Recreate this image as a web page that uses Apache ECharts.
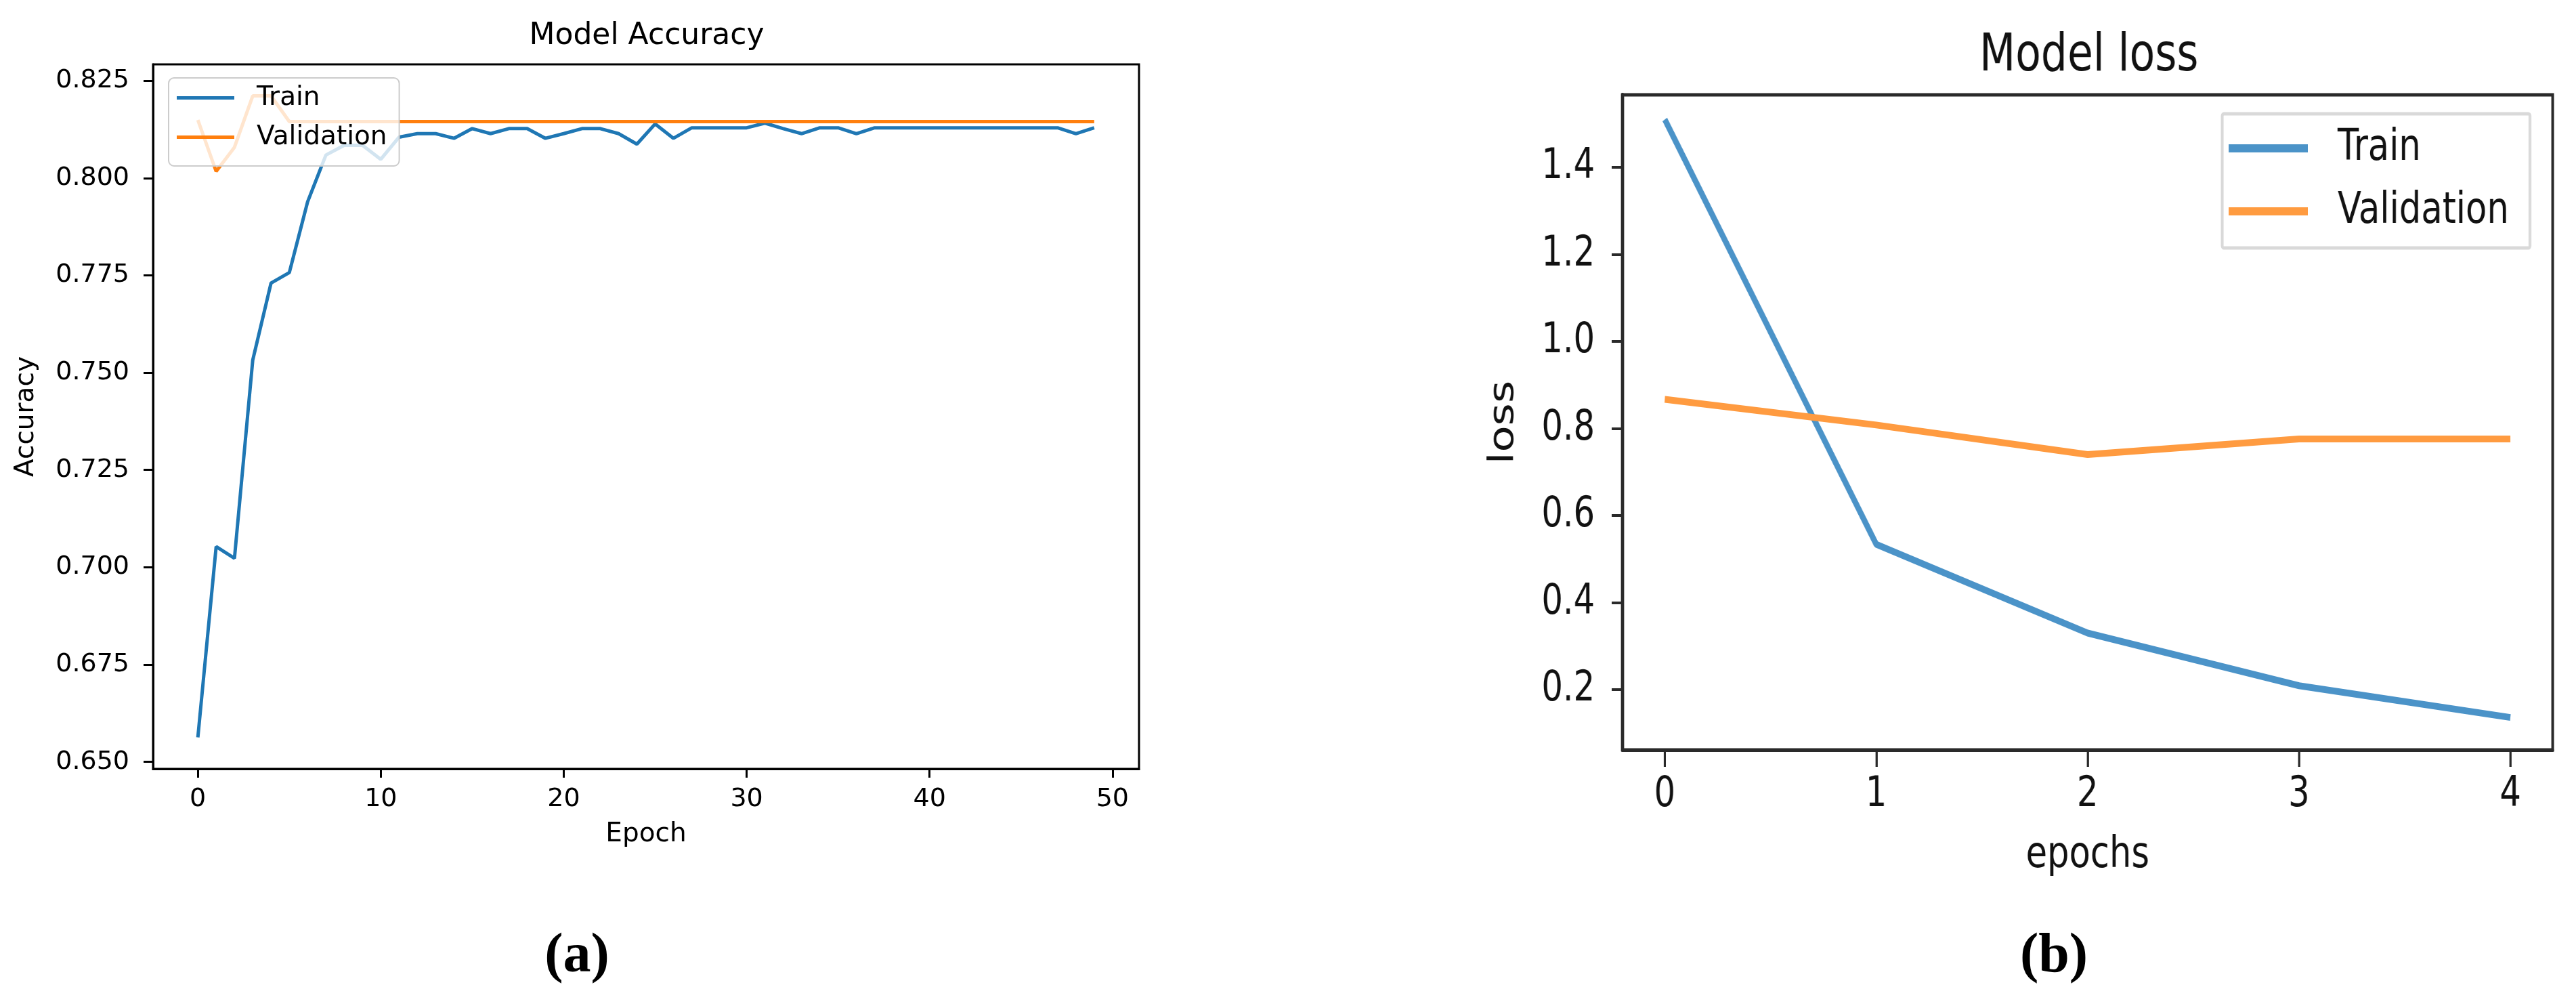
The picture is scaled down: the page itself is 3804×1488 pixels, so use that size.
<!DOCTYPE html>
<html><head><meta charset="utf-8">
<script src="https://cdn.jsdelivr.net/npm/echarts@6/dist/echarts.min.js"></script>
<style>
html,body{margin:0;padding:0;background:#fff}
body{position:relative;width:3804px;height:1488px;overflow:hidden}
#ca{position:absolute;left:0;top:0;width:3804px;height:1488px}
/* panel (b) is a horizontally squeezed figure in the reference */
#cb{position:absolute;left:1800px;top:0;width:2505px;height:1488px;transform:scaleX(0.8);transform-origin:0 0}
</style>
</head><body><div id="ca"></div><div id="cb"></div>
<script>
// ---- (a) Model Accuracy ----
const accEpochs = [0,1,2,3,4,5,6,7,8,9,10,11,12,13,14,15,16,17,18,19,20,21,22,23,24,25,26,27,28,29,30,31,32,33,34,35,36,37,38,39,40,41,42,43,44,45,46,47,48,49];
const accTrain = [0.6563,0.7053,0.7023,0.7532,0.7730,0.7757,0.7939,0.8059,0.8084,0.8084,
  0.8048,0.8105,0.8114,0.8114,0.8102,0.8127,0.8114,0.8127,0.8127,0.8102,
  0.8114,0.8127,0.8127,0.8114,0.8087,0.8139,0.8102,0.8129,0.8129,0.8129,
  0.8129,0.8141,0.8127,0.8114,0.8129,0.8129,0.8114,0.8129,0.8129,0.8129,
  0.8129,0.8129,0.8129,0.8129,0.8129,0.8129,0.8129,0.8129,0.8114,0.8129];
const accVal = [0.8149,0.8017,0.8079,0.8211,0.8211,0.8145,0.8145,0.8145,0.8145,0.8145,
  0.8145,0.8145,0.8145,0.8145,0.8145,0.8145,0.8145,0.8145,0.8145,0.8145,
  0.8145,0.8145,0.8145,0.8145,0.8145,0.8145,0.8145,0.8145,0.8145,0.8145,
  0.8145,0.8145,0.8145,0.8145,0.8145,0.8145,0.8145,0.8145,0.8145,0.8145,
  0.8145,0.8145,0.8145,0.8145,0.8145,0.8145,0.8145,0.8145,0.8145,0.8145];
const accXTicks = [0,10,20,30,40,50];
const accYTicks = [0.650,0.675,0.700,0.725,0.750,0.775,0.800,0.825];

// ---- (b) Model loss ----
const lossEpochs = [0,1,2,3,4];
const lossTrain = [1.510,0.534,0.330,0.209,0.136];
const lossVal = [0.867,0.808,0.740,0.776,0.776];
const lossXTicks = [0,1,2,3,4];
const lossYTicks = [0.2,0.4,0.6,0.8,1.0,1.2,1.4];

const seriesNames = ['Train','Validation'];
const captions = ['a','b'];

const FA = 'DejaVu Sans';
const cA = ['#1f77b4','#ff7f0e'];
const cB = ['#4b93c8','#ff9b40'];

const pairs = (xs, ys) => xs.map((x,i)=>[x, ys[i]]);
const capText = c => '{p|(}{b|'+c+'}{p|)}';
const capRich = {p:{fontSize:82, fontFamily:'Liberation Serif', color:'#000'},
                 b:{fontSize:82, fontFamily:'Liberation Serif', fontWeight:'bold', color:'#000'}};

// ===== panel (a) + captions =====
const chartA = echarts.init(document.getElementById('ca'), null, {renderer:'canvas'});
chartA.setOption({
  animation:false,
  backgroundColor:'#fff',
  title:[
    {text:'Model Accuracy', left:955, top:32, textAlign:'center', padding:0,
     textStyle:{fontSize:44, fontWeight:'normal', fontFamily:FA, color:'#000'}},
    {text:capText(captions[0]), left:852, top:1372, textAlign:'center', padding:0, textStyle:{rich:capRich}},
    {text:capText(captions[1]), left:3033, top:1372, textAlign:'center', padding:0, textStyle:{rich:capRich}}
  ],
  legend:{data:[{name:seriesNames[0], itemStyle:{color:cA[0]}},{name:seriesNames[1], itemStyle:{color:cA[1]}}],
     left:249, top:115, orient:'vertical', icon:'rect', itemWidth:85, itemHeight:5, itemGap:19,
     padding:[10,18,23,12], backgroundColor:'rgba(255,255,255,0.8)', borderColor:'#cccccc', borderWidth:2, borderRadius:8,
     selectedMode:false,
     textStyle:{fontSize:39, fontFamily:FA, color:'#000', padding:[0,0,0,28]}},
  grid:{left:226, top:95, width:1456, height:1040, show:true, borderColor:'#000', borderWidth:3, containLabel:false},
  xAxis:{type:'value', min:-2.45, max:51.45,
     axisLine:{show:true, onZero:false, lineStyle:{color:'#000', width:3}},
     axisTick:{show:true, length:13, lineStyle:{color:'#000', width:3}, customValues:accXTicks},
     axisLabel:{customValues:accXTicks, margin:26, fontSize:38, fontFamily:FA, color:'#000', formatter:v=>String(v)},
     splitLine:{show:false},
     name:'Epoch', nameLocation:'middle', nameGap:77, nameTextStyle:{fontSize:39, fontFamily:FA, color:'#000'}},
  yAxis:{type:'value', min:0.6482, max:0.8292,
     axisLine:{show:true, onZero:false, lineStyle:{color:'#000', width:3}},
     axisTick:{show:true, length:14, lineStyle:{color:'#000', width:3}, customValues:accYTicks},
     axisLabel:{customValues:accYTicks, margin:35, fontSize:38, fontFamily:FA, color:'#000', formatter:v=>v.toFixed(3)},
     splitLine:{show:false},
     name:'Accuracy', nameLocation:'middle', nameGap:168, nameTextStyle:{fontSize:39, fontFamily:FA, color:'#000'}},
  series:[
    {type:'line', name:seriesNames[0], data:pairs(accEpochs, accTrain), symbol:'none',
     lineStyle:{width:5, color:cA[0]}, itemStyle:{color:cA[0]}, z:2},
    {type:'line', name:seriesNames[1], data:pairs(accEpochs, accVal), symbol:'none',
     lineStyle:{width:5, color:cA[1]}, itemStyle:{color:cA[1]}, z:3}
  ]
});

// ===== panel (b): drawn in unsqueezed coordinates, squeezed by CSS (x 0.8) =====
const chartB = echarts.init(document.getElementById('cb'), null, {renderer:'canvas'});
chartB.setOption({
  animation:false,
  backgroundColor:'transparent',
  title:{text:'Model loss', left:1606, top:45, textAlign:'center', padding:0,
     textStyle:{fontSize:77, fontWeight:'normal', fontFamily:FA, color:'#111'}},
  legend:{data:[{name:seriesNames[0], itemStyle:{color:cB[0]}},{name:seriesNames[1], itemStyle:{color:cB[1]}}],
     left:1852, top:168, orient:'vertical', icon:'rect', itemWidth:146, itemHeight:12, itemGap:29,
     padding:[19,39,22,12], backgroundColor:'#fff', borderColor:'#d9d9d9', borderWidth:5, borderRadius:3,
     selectedMode:false,
     textStyle:{fontSize:64, fontFamily:FA, color:'#111', padding:[0,0,0,50]}},
  grid:{left:745, top:140, width:1717, height:967, show:true, borderColor:'#2a2a2a', borderWidth:5, containLabel:false},
  xAxis:{type:'value', min:-0.2, max:4.2,
     axisLine:{show:true, onZero:false, lineStyle:{color:'#2a2a2a', width:5}},
     axisTick:{show:true, length:25, lineStyle:{color:'#2a2a2a', width:4}, customValues:lossXTicks},
     axisLabel:{customValues:lossXTicks, margin:36, fontSize:62, fontFamily:FA, color:'#111', formatter:v=>String(v)},
     splitLine:{show:false},
     name:'epochs', nameLocation:'middle', nameGap:124, nameTextStyle:{fontSize:64, fontFamily:FA, color:'#111'}},
  yAxis:{type:'value', min:0.0615, max:1.5665,
     axisLine:{show:true, onZero:false, lineStyle:{color:'#2a2a2a', width:6}},
     axisTick:{show:true, length:20, lineStyle:{color:'#2a2a2a', width:4}, customValues:lossYTicks},
     axisLabel:{customValues:lossYTicks, margin:51, fontSize:62, fontFamily:FA, color:'#111', formatter:v=>v.toFixed(1)},
     splitLine:{show:false},
     name:'loss', nameLocation:'middle', nameGap:187, nameTextStyle:{fontSize:64, fontFamily:FA, color:'#111'}},
  series:[
    {type:'line', name:seriesNames[0], data:pairs(lossEpochs, lossTrain), symbol:'none',
     lineStyle:{width:10, color:cB[0]}, itemStyle:{color:cB[0]}, z:2},
    {type:'line', name:seriesNames[1], data:pairs(lossEpochs, lossVal), symbol:'none',
     lineStyle:{width:10, color:cB[1]}, itemStyle:{color:cB[1]}, z:3}
  ]
});
</script></body></html>
